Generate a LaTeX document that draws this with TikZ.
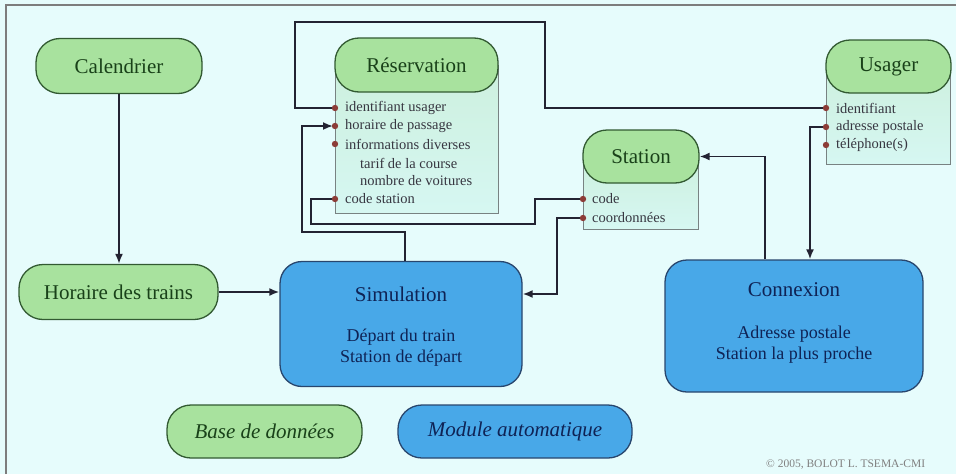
\documentclass[tikz,border=0pt]{standalone}
\usepackage{fontspec}
\setmainfont{Liberation Serif}
\usetikzlibrary{arrows.meta}
\definecolor{bg}{RGB}{230,252,252}
\definecolor{framec}{RGB}{125,125,125}
\definecolor{dbfill}{RGB}{168,226,158}
\definecolor{dbborder}{RGB}{50,90,50}
\definecolor{dbtext}{RGB}{25,65,25}
\definecolor{modfill}{RGB}{72,168,232}
\definecolor{modborder}{RGB}{40,70,110}
\definecolor{modtext}{RGB}{15,35,85}
\definecolor{bodytop}{RGB}{205,240,222}
\definecolor{bodybot}{RGB}{214,247,242}
\definecolor{bodyborder}{RGB}{120,130,130}
\definecolor{connc}{RGB}{35,35,50}
\definecolor{dotc}{RGB}{140,60,55}
\definecolor{itemc}{RGB}{55,55,65}
\begin{document}
\begin{tikzpicture}[x=1pt,y=-1pt,
  db/.style={draw=dbborder, fill=dbfill, rounded corners=24pt, line width=1.3pt,
    text=dbtext, inner sep=0pt, font=\fontsize{21}{24}\selectfont},
  mod/.style={draw=modborder, fill=modfill, rounded corners=22pt, line width=1.3pt,
    text=modtext, inner sep=0pt, font=\fontsize{21}{24}\selectfont},
  modtitle/.style={text=modtext, inner sep=0pt, font=\fontsize{21}{24}\selectfont},
  modsub/.style={text=modtext, inner sep=0pt, align=center, font=\fontsize{18}{21}\selectfont},
  body/.style={draw=bodyborder, line width=0.8pt, top color=bodytop, bottom color=bodybot},
  item/.style={anchor=west, text=itemc, inner sep=0pt, font=\fontsize{14.5}{16}\selectfont},
  conn/.style={draw=connc, line width=1.8pt},
  arr/.style={conn, -{Latex[length=10pt,width=8pt]}},
  dotmark/.style={fill=dotc}
]
\useasboundingbox (0,0) rectangle (956,474);
\fill[bg] (0,0) rectangle (956,474);
\draw[framec, line width=1.5pt] (6,474) -- (6,5) -- (956,5);

% database pills
\node[db, minimum width=166pt, minimum height=55pt] (cal) at (119,66) {Calendrier};
\node[db, minimum width=199pt, minimum height=55pt] (hor) at (118.5,292) {Horaire des trains};

% Reservation
\path[body] (335,65) rectangle (498,213);
\node[db, minimum width=163pt, minimum height=54pt] (res) at (416.5,65) {Réservation};
\coordinate (r1) at (335,108);
\coordinate (r2) at (335,126);
\coordinate (r3) at (335,144);
\coordinate (r6) at (335,199);
\node[item] (r1t) at (345,108) {identifiant usager};
\node[item] (r2t) at (345,126) {horaire de passage};
\node[item] (r3t) at (345,144) {informations diverses};
\node[item] (r4t) at (360,163) {tarif de la course};
\node[item] (r5t) at (360,181) {nombre de voitures};
\node[item] (r6t) at (345,199) {code station};

% Station
\path[body] (583,156) rectangle (698,229);
\node[db, minimum width=116pt, minimum height=53pt] (sta) at (641,156.5) {Station};
\coordinate (s1) at (583,199);
\coordinate (s2) at (583,218);
\node[item] (s1t) at (592,199) {code};
\node[item] (s2t) at (592,218) {coordonnées};

% Usager
\path[body] (826,66) rectangle (950,164);
\node[db, minimum width=125pt, minimum height=53pt] (usa) at (888.5,66.5) {Usager};
\coordinate (u1) at (826,108);
\coordinate (u2) at (826,127);
\coordinate (u3) at (826,145);
\node[item] (u1t) at (836,108) {identifiant};
\node[item] (u2t) at (836,127) {adresse postale};
\node[item] (u3t) at (836,145) {téléphone(s)};

% modules
\node[mod, minimum width=242pt, minimum height=125pt] (sim) at (401,324) {};
\node[modtitle] (simT) at (401,294) {Simulation};
\node[modsub] (simS) at (401,348) {Départ du train\\Station de départ};
\node[mod, minimum width=258pt, minimum height=132pt] (con) at (794,326) {};
\node[modtitle] (conT) at (794,290) {Connexion};
\node[modsub] (conS) at (794,345) {Adresse postale\\Station la plus proche};

% connectors
\draw[arr] (cal.south) -- (cal.south |- hor.north);
\draw[arr] (hor.east) -- (hor.east -| sim.west);
\draw[conn] (r1) -- (295,108) -- (295,22) -- (545,22) -- (545,108) -- (u1);
\draw[arr, shorten >=2pt] ([xshift=4pt]sim.north) -- (405,232) -- (302,232) -- (302,126) -- (r2);
\draw[conn] (r6) -- (311,199) -- (311,224) -- (535,224) -- (535,199) -- (s1);
\draw[arr] (s2) -- (557,218) -- (557,294) -- ([yshift=30pt]sim.east);
\draw[arr] ([xshift=-29pt]con.north) |- (sta.east);
\draw[arr] (u2) -| ([xshift=16pt]con.north);

% dots
\foreach \p in {r1,r2,r3,r6,s1,s2,u1,u2,u3} \fill[dotmark] (\p) circle (3.2pt);

% legend
\node[db, minimum width=195pt, minimum height=53pt, font=\fontsize{21}{24}\selectfont\itshape] (leg1) at (264.5,431.5) {Base de données};
\node[mod, minimum width=234pt, minimum height=53pt, rounded corners=24pt, font=\fontsize{21}{24}\selectfont\itshape] (leg2) at (515,431.5) {Module automatique};

\node[anchor=west, text=gray, inner sep=0pt, font=\fontsize{11.5}{13}\selectfont] (copy) at (766,465) {\textcopyright{} 2005, BOLOT L. TSEMA-CMI};
\end{tikzpicture}
\end{document}
